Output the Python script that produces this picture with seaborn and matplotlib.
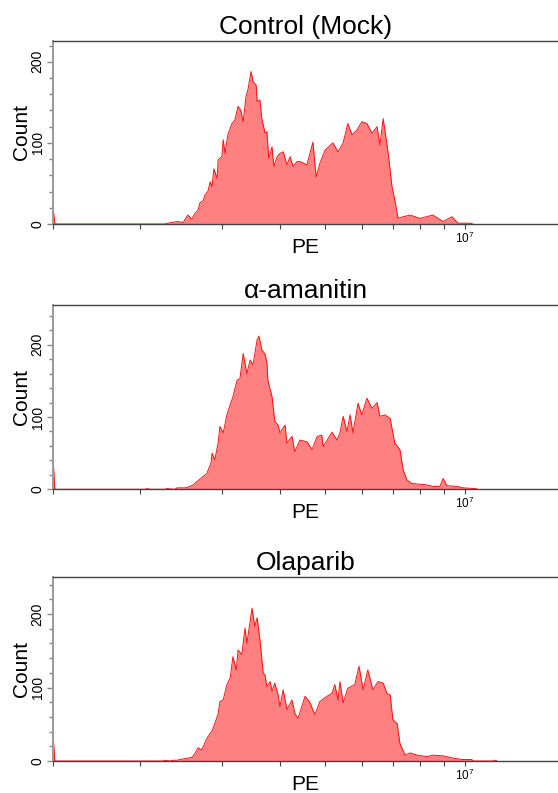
import numpy as np
import pandas as pd
import matplotlib
matplotlib.use("Agg")
import matplotlib.pyplot as plt
import seaborn as sns
from matplotlib.ticker import FixedLocator, NullFormatter, FixedFormatter

# ---------------- data ----------------
titles = ["Control (Mock)", "\u03b1-amanitin", "Olaparib"]

# log10(PE) positions and counts for each histogram
ctrl_logpe = [6.114, 6.118, 6.355, 6.361, 6.381, 6.394, 6.404, 6.413, 6.419, 6.426,
              6.430, 6.437, 6.441, 6.447, 6.452, 6.456, 6.460, 6.467, 6.469, 6.477,
              6.480, 6.484, 6.490, 6.499, 6.505, 6.512, 6.518, 6.523, 6.529, 6.533,
              6.540, 6.544, 6.551, 6.553, 6.559, 6.563, 6.570, 6.574, 6.578, 6.585,
              6.589, 6.596, 6.602, 6.609, 6.617, 6.624, 6.630, 6.639, 6.645, 6.660,
              6.673, 6.680, 6.688, 6.699, 6.716, 6.727, 6.738, 6.748, 6.757, 6.768,
              6.778, 6.789, 6.800, 6.811, 6.817, 6.824, 6.834, 6.843, 6.849, 6.856,
              6.867, 6.882, 6.903, 6.931, 6.953, 6.972, 6.985, 7.011, 7.017]
ctrl_count = [21, 0, 0, 1, 3, 2, 11, 6, 13, 17,
              26, 29, 36, 40, 52, 46, 68, 56, 79, 83,
              104, 87, 110, 124, 128, 145, 140, 126, 157, 165,
              188, 176, 171, 151, 153, 130, 112, 114, 81, 95,
              71, 83, 87, 89, 73, 83, 71, 77, 77, 73,
              101, 58, 75, 91, 100, 89, 100, 124, 110, 116,
              126, 124, 112, 120, 97, 130, 91, 46, 30, 7,
              9, 11, 7, 11, 3, 9, 1, 1, 0]

ama_logpe = [6.114, 6.118, 6.312, 6.316, 6.323, 6.355, 6.359, 6.376, 6.381, 6.398,
             6.409, 6.415, 6.430, 6.445, 6.454, 6.456, 6.462, 6.469, 6.473, 6.480,
             6.488, 6.495, 6.501, 6.510, 6.516, 6.523, 6.531, 6.538, 6.544, 6.553,
             6.557, 6.563, 6.570, 6.574, 6.576, 6.585, 6.591, 6.598, 6.602, 6.613,
             6.617, 6.628, 6.634, 6.645, 6.660, 6.671, 6.682, 6.692, 6.695, 6.714,
             6.725, 6.731, 6.738, 6.746, 6.753, 6.759, 6.770, 6.778, 6.789, 6.800,
             6.811, 6.817, 6.828, 6.839, 6.849, 6.860, 6.867, 6.875, 6.886, 6.903,
             6.918, 6.931, 6.946, 6.953, 6.961, 6.983, 6.996, 7.022, 7.028]
ama_count = [44, 0, 0, 1, 0, 0, 1, 0, 2, 2,
             4, 6, 14, 22, 37, 50, 41, 64, 87, 78,
             103, 117, 128, 151, 153, 188, 160, 179, 172, 207,
             212, 193, 187, 175, 151, 128, 94, 89, 78, 89,
             64, 73, 52, 68, 66, 55, 73, 75, 59, 79,
             68, 78, 101, 80, 103, 78, 119, 103, 126, 112,
             120, 101, 103, 98, 64, 55, 27, 13, 8, 7,
             6, 4, 4, 15, 5, 4, 2, 1, 0]

ola_logpe = [6.114, 6.118, 6.351, 6.355, 6.366, 6.372, 6.381, 6.387, 6.413, 6.419,
             6.426, 6.434, 6.445, 6.456, 6.462, 6.469, 6.473, 6.480, 6.488, 6.495,
             6.501, 6.508, 6.512, 6.520, 6.527, 6.531, 6.542, 6.548, 6.553, 6.559,
             6.566, 6.570, 6.574, 6.581, 6.585, 6.591, 6.598, 6.602, 6.609, 6.617,
             6.628, 6.634, 6.641, 6.656, 6.667, 6.677, 6.688, 6.703, 6.714, 6.720,
             6.727, 6.731, 6.738, 6.748, 6.763, 6.772, 6.781, 6.791, 6.802, 6.813,
             6.824, 6.832, 6.839, 6.845, 6.854, 6.860, 6.871, 6.882, 6.897, 6.918,
             6.931, 6.953, 6.974, 6.994, 7.015, 7.017, 7.060, 7.065, 7.069]
ola_count = [36, 0, 0, 1, 0, 1, 1, 2, 5, 10,
             18, 15, 31, 41, 51, 64, 81, 83, 104, 113,
             142, 124, 151, 145, 181, 160, 208, 183, 195, 165,
             120, 117, 101, 108, 95, 106, 90, 74, 97, 70,
             83, 65, 58, 88, 79, 63, 81, 88, 92, 104,
             83, 108, 79, 99, 104, 129, 97, 124, 97, 108,
             106, 92, 90, 56, 51, 24, 8, 11, 8, 6,
             8, 7, 4, 2, 2, 0, 0, 1, 0]

y_max = [226, 255, 250]
x_range_log = (6.114, 7.2)
x_minor_ticks = [2e6, 3e6, 4e6, 5e6, 6e6, 7e6, 8e6, 9e6]
x_major_ticks = [1e7]
x_major_labels = ["$\\mathregular{10^7}$"]
y_major_ticks = [0, 100, 200]

panels = [(ctrl_logpe, ctrl_count), (ama_logpe, ama_count), (ola_logpe, ola_count)]

# ---------------- style ----------------
sns.set_theme(style="ticks")
plt.rcParams['font.family'] = ['Liberation Sans', 'DejaVu Sans']
plt.rcParams['mathtext.fontset'] = 'custom'
plt.rcParams['mathtext.rm'] = 'Liberation Sans'
plt.rcParams['mathtext.it'] = 'Liberation Sans:italic'
plt.rcParams['mathtext.bf'] = 'Liberation Sans:bold'
plt.rcParams['text.color'] = 'black'
plt.rcParams['axes.labelcolor'] = 'black'
plt.rcParams['xtick.labelcolor'] = 'black'
plt.rcParams['ytick.labelcolor'] = 'black'

fig = plt.figure(figsize=(5.58, 7.93), dpi=100)
W, H = 558, 793
boxes = [(40.7, 224.0), (305.0, 489.3), (577.3, 761.0)]
left_px = 53

for i, ((lp, cnt), title, ym, (top, bot)) in enumerate(zip(panels, titles, y_max, boxes)):
    ax = fig.add_axes([left_px / W, 1 - bot / H, (W - left_px) / W, (bot - top) / H])
    df = pd.DataFrame({"PE": 10 ** np.asarray(lp, dtype=float), "Count": cnt})
    ax.fill_between(df["PE"], 0, df["Count"], color="#ff8080", lw=0, zorder=1)
    sns.lineplot(data=df, x="PE", y="Count", ax=ax, color="#ff1010", lw=0.7,
                 estimator=None, sort=False, zorder=2)
    ax.set_xscale("log")
    ax.set_xlim(10 ** x_range_log[0], 10 ** x_range_log[1])
    ax.set_ylim(0, ym)

    ax.xaxis.set_major_locator(FixedLocator(x_major_ticks))
    ax.xaxis.set_major_formatter(FixedFormatter(x_major_labels))
    ax.xaxis.set_minor_locator(FixedLocator([10 ** x_range_log[0]] + x_minor_ticks))
    ax.xaxis.set_minor_formatter(NullFormatter())

    ax.yaxis.set_major_locator(FixedLocator(y_major_ticks))
    ax.yaxis.set_minor_locator(FixedLocator(list(range(20, int(ym) + 1, 20))))
    ax.yaxis.set_minor_formatter(NullFormatter())

    ax.tick_params(axis="x", which="both", length=3.5, width=0.8, color="#444444",
                   labelsize=8.5, pad=1.5)
    ax.tick_params(axis="y", which="major", length=4, width=1.0, color="#888888",
                   labelsize=10, pad=2, labelrotation=90)
    ax.tick_params(axis="y", which="minor", length=3, width=1.0, color="#888888")
    for lab in ax.get_yticklabels():
        lab.set_va("center")

    for s in ("top", "bottom"):
        ax.spines[s].set_color("#444444")
        ax.spines[s].set_linewidth(1.0)
    ax.spines["left"].set_color("#999999")
    ax.spines["left"].set_linewidth(1.4)
    ax.spines["right"].set_visible(False)

    ax.set_title(title, fontsize=19, pad=5, color="black")
    ax.set_xlabel("PE", fontsize=15, labelpad=-6)
    ax.set_ylabel("Count", fontsize=15, labelpad=0)

fig.savefig("out.png", dpi=100)
